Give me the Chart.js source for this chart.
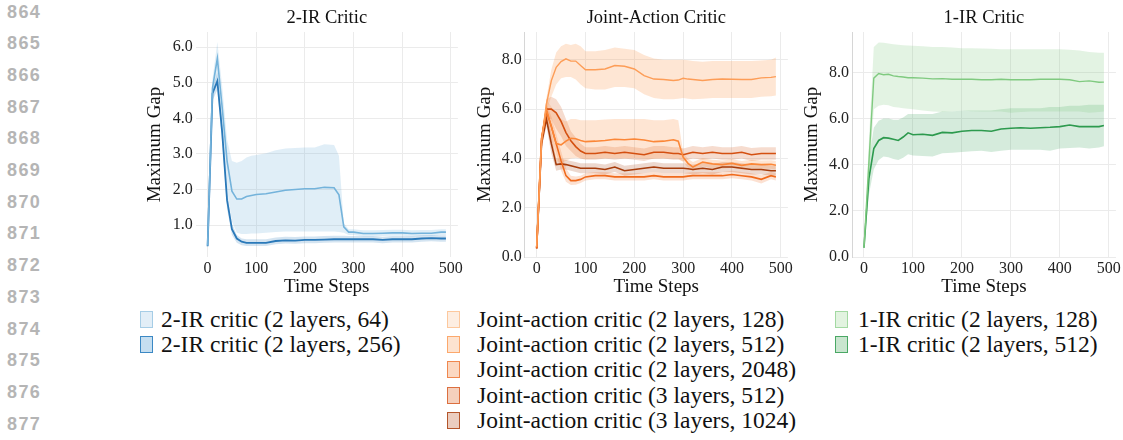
<!DOCTYPE html>
<html>
<head>
<meta charset="utf-8">
<script src="https://cdn.jsdelivr.net/npm/chart.js@4.4.1/dist/chart.umd.min.js"></script>
<style>
  body { margin: 0; background: #fff; width: 1123px; height: 440px; position: relative; overflow: hidden; font-family: "Liberation Serif", serif; }
  .ln { position: absolute; left: 7px; font: bold 18px "Liberation Sans", sans-serif; color: #b5b5b5; letter-spacing: 1.4px; line-height: 20px; }
  .pan { position: absolute; top: 0; height: 300px; }
  .leg { position: absolute; top: 307px; font-size: 23.5px; color: #111; }
  .row { height: 25.2px; position: relative; white-space: nowrap; }
  .sw { position: absolute; left: 0; top: 4px; width: 13px; height: 17px; border: 1.5px solid; box-sizing: border-box; }
  .tx { position: absolute; top: 0; line-height: 25px; }
</style>
</head>
<body>
<div id="lines"></div>
<div class="pan" style="left:140px;width:325px"><canvas id="c1"></canvas></div>
<div class="pan" style="left:470px;width:325px"><canvas id="c2"></canvas></div>
<div class="pan" style="left:800px;width:323px"><canvas id="c3"></canvas></div>
<div class="leg" id="leg1" style="left:140px"></div>
<div class="leg" id="leg2" style="left:447px"></div>
<div class="leg" id="leg3" style="left:835px"></div>
<script>
// ── page line numbers
const lineNums = [864, 865, 866, 867, 868, 869, 870, 871, 872, 873, 874, 875, 876, 877];

// ── x ticks / time steps
const xTicks = [0, 100, 200, 300, 400, 500];
const steps1 = [0,10,20,30,40,50,60,70,80,90,100,120,140,160,180,200,220,240,260,270,280,290,300,320,340,360,380,400,420,440,460,480,490];
const steps2 = [0,10,20,30,40,50,60,70,80,90,100,120,140,160,180,200,220,240,260,280,290,300,310,320,340,360,380,400,420,440,460,480,490];
const steps3 = [0,10,20,30,40,50,60,70,80,90,100,120,140,160,180,200,220,240,260,280,300,320,340,360,380,400,420,440,460,480,490];

// ── 2-IR critic
const ir2w64Mean = [0.42,4.85,5.69,4.3,2.8,1.95,1.73,1.73,1.8,1.83,1.86,1.88,1.93,1.98,2.0,2.02,2.02,2.06,2.05,1.85,0.95,0.8,0.8,0.76,0.76,0.77,0.78,0.78,0.76,0.77,0.77,0.8,0.8];
const ir2w64Hi   = [0.45,5.1,6.15,4.9,3.4,2.8,2.75,2.8,2.9,2.95,2.97,3.02,3.1,3.15,3.17,3.18,3.18,3.27,3.25,2.95,1.05,0.88,0.88,0.85,0.85,0.86,0.87,0.87,0.85,0.86,0.86,0.88,0.88];
const ir2w64Lo   = [0.4,4.6,5.2,3.6,2.0,1.1,0.78,0.75,0.75,0.76,0.76,0.78,0.8,0.82,0.82,0.82,0.82,0.82,0.82,0.8,0.78,0.72,0.72,0.68,0.68,0.69,0.7,0.7,0.68,0.69,0.69,0.72,0.72];
const ir2w256Mean = [0.4,4.7,5.05,3.6,1.7,0.88,0.62,0.53,0.5,0.5,0.5,0.5,0.55,0.57,0.56,0.58,0.58,0.59,0.6,0.6,0.6,0.6,0.6,0.6,0.6,0.58,0.6,0.6,0.6,0.62,0.63,0.62,0.62];
const ir2w256Hi   = [0.42,4.85,5.3,3.9,1.95,1.05,0.72,0.62,0.6,0.6,0.6,0.6,0.65,0.67,0.66,0.68,0.68,0.69,0.7,0.7,0.7,0.69,0.69,0.69,0.69,0.67,0.69,0.69,0.69,0.71,0.72,0.71,0.71];
const ir2w256Lo   = [0.38,4.5,4.8,3.3,1.45,0.72,0.5,0.43,0.41,0.41,0.41,0.41,0.46,0.48,0.47,0.49,0.49,0.5,0.51,0.51,0.51,0.51,0.51,0.51,0.51,0.49,0.51,0.51,0.51,0.53,0.54,0.53,0.53];

// ── joint-action critic
const ja128Mean = [0.42,4.7,6.2,7.15,7.7,7.93,8.04,7.95,7.95,7.77,7.6,7.6,7.63,7.77,7.74,7.63,7.36,7.22,7.2,7.16,7.18,7.25,7.22,7.2,7.16,7.2,7.22,7.21,7.2,7.2,7.27,7.29,7.32];
const ja128Hi   = [0.45,4.9,6.45,7.6,8.3,8.55,8.65,8.6,8.65,8.55,8.35,8.35,8.4,8.5,8.45,8.4,8.2,8.05,8.0,8.0,8.0,8.0,7.98,7.95,7.92,7.95,7.95,7.95,7.95,7.95,7.97,8.0,8.1];
const ja128Lo   = [0.4,4.5,5.9,6.5,7.0,7.25,7.3,7.3,7.2,7.0,6.85,6.8,6.8,6.9,6.9,6.85,6.6,6.45,6.4,6.4,6.42,6.45,6.42,6.4,6.42,6.45,6.45,6.45,6.45,6.45,6.5,6.52,6.55];
const ja512Mean = [0.4,4.8,6.0,5.3,4.6,4.55,4.7,4.82,4.8,4.73,4.68,4.7,4.73,4.78,4.76,4.79,4.75,4.68,4.7,4.76,4.7,4.05,3.8,3.65,3.85,3.78,3.75,3.8,3.72,3.78,3.75,3.76,3.72];
const ja512Hi   = [0.42,5.0,6.4,6.1,5.8,5.6,5.5,5.6,5.6,5.55,5.55,5.55,5.58,5.6,5.6,5.6,5.6,5.55,5.55,5.6,5.55,4.25,3.98,3.85,4.02,3.95,3.92,3.97,3.9,3.95,3.92,3.93,3.9];
const ja512Lo   = [0.38,4.6,5.6,4.6,3.9,3.8,3.9,4.0,4.02,4.0,3.98,4.0,4.0,4.02,4.0,4.02,4.0,3.98,4.0,4.0,4.0,3.85,3.62,3.48,3.68,3.6,3.58,3.62,3.55,3.6,3.58,3.58,3.55];
const ja2048Mean = [0.35,4.8,5.9,5.3,4.6,3.9,3.3,3.1,3.1,3.15,3.25,3.3,3.3,3.25,3.25,3.25,3.25,3.3,3.25,3.25,3.25,3.25,3.28,3.3,3.3,3.3,3.3,3.35,3.3,3.25,3.15,3.3,3.25];
const ja2048Hi   = [0.38,5.0,6.2,5.7,5.0,4.3,3.6,3.3,3.27,3.3,3.4,3.45,3.45,3.4,3.4,3.4,3.4,3.45,3.4,3.4,3.4,3.4,3.43,3.45,3.45,3.45,3.45,3.5,3.45,3.4,3.32,3.45,3.4];
const ja2048Lo   = [0.32,4.6,5.6,4.9,4.2,3.5,3.05,2.92,2.93,3.0,3.1,3.15,3.15,3.1,3.1,3.1,3.1,3.15,3.1,3.1,3.1,3.1,3.13,3.15,3.15,3.15,3.15,3.2,3.15,3.1,2.98,3.15,3.1];
const ja3x512Mean = [0.35,4.7,6.0,6.0,5.85,5.5,5.05,4.72,4.48,4.3,4.2,4.2,4.25,4.2,4.25,4.2,4.15,4.25,4.25,4.2,4.2,4.15,4.2,4.25,4.2,4.25,4.2,4.2,4.25,4.15,4.2,4.2,4.2];
const ja3x512Hi   = [0.38,4.9,6.4,6.5,6.4,6.1,5.6,5.1,4.85,4.6,4.45,4.45,4.5,4.45,4.5,4.45,4.4,4.5,4.5,4.45,4.45,4.4,4.45,4.5,4.45,4.5,4.45,4.45,4.5,4.42,4.45,4.45,4.45];
const ja3x512Lo   = [0.32,4.5,5.6,5.6,5.2,4.9,4.5,4.3,4.1,4.0,3.95,3.95,4.0,3.95,4.0,3.95,3.9,4.0,4.0,3.95,3.95,3.9,3.95,4.0,3.95,4.0,3.95,3.95,4.0,3.9,3.95,3.95,3.95];
const ja3x1024Mean = [0.35,4.6,5.6,4.6,3.75,3.78,3.75,3.7,3.65,3.6,3.6,3.6,3.55,3.65,3.5,3.55,3.6,3.65,3.6,3.6,3.6,3.6,3.58,3.55,3.6,3.55,3.65,3.65,3.6,3.55,3.55,3.5,3.5];
const ja3x1024Hi   = [0.38,4.8,5.9,5.0,4.0,3.98,3.95,3.9,3.85,3.8,3.8,3.8,3.75,3.85,3.7,3.75,3.8,3.85,3.8,3.8,3.8,3.8,3.78,3.75,3.8,3.75,3.85,3.85,3.8,3.75,3.75,3.7,3.7];
const ja3x1024Lo   = [0.32,4.4,5.3,4.2,3.5,3.55,3.55,3.5,3.45,3.4,3.4,3.4,3.35,3.45,3.3,3.35,3.4,3.45,3.4,3.4,3.4,3.4,3.38,3.35,3.4,3.35,3.45,3.45,3.4,3.35,3.35,3.3,3.3];

// ── 1-IR critic
const ir1w128Mean = [0.4,4.1,7.75,7.95,7.9,7.92,7.85,7.82,7.8,7.77,7.77,7.75,7.72,7.73,7.7,7.7,7.7,7.68,7.68,7.7,7.68,7.68,7.68,7.7,7.7,7.7,7.68,7.6,7.63,7.57,7.58];
const ir1w128Hi   = [0.45,5.0,9.1,9.3,9.28,9.25,9.22,9.2,9.18,9.16,9.15,9.13,9.1,9.1,9.08,9.05,9.05,9.03,9.02,9.0,9.0,9.0,9.0,9.0,9.0,9.0,8.98,8.95,8.88,8.85,8.85];
const ir1w128Lo   = [0.35,3.3,6.4,6.55,6.6,6.58,6.5,6.48,6.45,6.42,6.4,6.35,6.3,6.28,6.3,6.35,6.32,6.3,6.3,6.3,6.25,6.28,6.3,6.3,6.3,6.3,6.3,6.3,6.25,6.28,6.3];
const ir1w512Mean = [0.4,3.4,4.7,5.05,5.17,5.15,5.1,5.05,5.2,5.38,5.3,5.32,5.27,5.4,5.38,5.45,5.48,5.48,5.45,5.55,5.58,5.6,5.58,5.6,5.62,5.65,5.72,5.65,5.65,5.65,5.7];
const ir1w512Hi   = [0.45,4.2,5.6,5.9,6.0,6.0,5.95,5.95,6.05,6.2,6.2,6.2,6.2,6.3,6.3,6.35,6.35,6.35,6.35,6.4,6.45,6.45,6.45,6.45,6.5,6.5,6.55,6.55,6.6,6.6,6.6];
const ir1w512Lo   = [0.35,2.7,3.8,4.2,4.35,4.32,4.25,4.2,4.3,4.45,4.4,4.38,4.35,4.5,4.52,4.55,4.58,4.6,4.55,4.6,4.65,4.65,4.65,4.65,4.6,4.7,4.72,4.75,4.7,4.75,4.8];

const FONT = '"Liberation Serif", serif';

const lnBox = document.getElementById('lines');
lineNums.forEach((n, i) => {
  const d = document.createElement('div');
  d.className = 'ln';
  d.style.top = (1.5 + 31.7 * i) + 'px';
  d.textContent = n;
  lnBox.appendChild(d);
});

const pts = (xs, ys) => xs.map((x, i) => ({ x, y: ys[i] }));

function seriesSets(xs, s) {
  const ax = { xAxisID: 'x', yAxisID: 'y', pointRadius: 0 };
  return [
    { ...ax, data: pts(xs, s.hi), borderWidth: 0, fill: '+1', backgroundColor: s.band, order: 2 },
    { ...ax, data: pts(xs, s.lo), borderWidth: 0, fill: false, order: 2 },
    { ...ax, data: pts(xs, s.mean), borderColor: s.line, borderWidth: s.w || 1.6, fill: false, order: 1 }
  ];
}

function panel(id, o) {
  const datasets = [];
  o.series.forEach(s => datasets.push(...seriesSets(o.xs, s)));
  new Chart(document.getElementById(id), {
    type: 'line',
    data: { datasets },
    options: {
      responsive: true,
      maintainAspectRatio: false,
      animation: false,
      layout: { padding: { left: 0, right: o.padR, top: 0, bottom: 0 } },
      plugins: { legend: { display: false }, tooltip: { enabled: false } },
      scales: {
        x: {
          type: 'linear', min: -24.5, max: 514.5,
          afterBuildTicks: s => { s.ticks = xTicks.map(v => ({ value: v })); },
          afterFit: s => { s.height = 43; },
          ticks: { color: '#222', font: { family: FONT, size: 16 }, padding: 2, maxRotation: 0 },
          grid: { color: '#ebebeb', drawTicks: false },
          border: { display: false },
          title: { display: true, text: 'Time Steps', color: '#111', font: { family: FONT, size: 19 }, padding: { bottom: 1.5 } }
        },
        y: {
          min: o.ymin, max: o.ymax,
          afterBuildTicks: s => { s.ticks = o.yTicks.map(v => ({ value: v })); },
          afterFit: s => { s.width = o.yw; },
          ticks: { color: '#222', font: { family: FONT, size: 16 }, padding: 3, callback: v => v.toFixed(1) },
          grid: { color: '#ebebeb', drawTicks: false },
          border: { display: o.spine, color: '#d6d6d6' },
          title: { display: true, text: 'Maximum Gap', color: '#111', font: { family: FONT, size: 19 }, padding: { top: o.ytp } }
        },
        // panel title, centred over the plot area like an axes title
        top: {
          type: 'linear', axis: 'x', position: 'top', min: 0, max: 1,
          afterFit: s => { s.height = 32; },
          ticks: { display: false },
          grid: { display: false },
          border: { display: false },
          title: { display: true, text: o.title, color: '#111', font: { family: FONT, size: 18.5 }, padding: { top: 7 } }
        }
      }
    }
  });
}

const ir2Series = [
  { label: '2-IR critic (2 layers, 64)', mean: ir2w64Mean, hi: ir2w64Hi, lo: ir2w64Lo, line: '#74b3db', band: 'rgba(116,179,219,0.22)', box: '#e2eef7', edge: '#a6cde6' },
  { label: '2-IR critic (2 layers, 256)', mean: ir2w256Mean, hi: ir2w256Hi, lo: ir2w256Lo, line: '#2a79b9', band: 'rgba(42,121,185,0.2)', box: '#c5def0', edge: '#3b88c4', w: 1.8 }
];
const jaSeries = [
  { label: 'Joint-action critic (2 layers, 128)', mean: ja128Mean, hi: ja128Hi, lo: ja128Lo, line: '#fd9d57', band: 'rgba(253,157,87,0.26)', box: '#fdeee2', edge: '#fdc89d', w: 1.4 },
  { label: 'Joint-action critic (2 layers, 512)', mean: ja512Mean, hi: ja512Hi, lo: ja512Lo, line: '#fb8738', band: 'rgba(251,135,56,0.22)', box: '#fde3d0', edge: '#fca86c' },
  { label: 'Joint-action critic (2 layers, 2048)', mean: ja2048Mean, hi: ja2048Hi, lo: ja2048Lo, line: '#f06a1c', band: 'rgba(240,106,28,0.2)', box: '#fbd8c2', edge: '#f0874e' },
  { label: 'Joint-action critic (3 layers, 512)', mean: ja3x512Mean, hi: ja3x512Hi, lo: ja3x512Lo, line: '#d45011', band: 'rgba(212,80,17,0.2)', box: '#f5d0bd', edge: '#dc6f3f' },
  { label: 'Joint-action critic (3 layers, 1024)', mean: ja3x1024Mean, hi: ja3x1024Hi, lo: ja3x1024Lo, line: '#a63c0b', band: 'rgba(166,60,11,0.2)', box: '#ebcdbf', edge: '#b4552a' }
];
const ir1Series = [
  { label: '1-IR critic (2 layers, 128)', mean: ir1w128Mean, hi: ir1w128Hi, lo: ir1w128Lo, line: '#80ca80', band: 'rgba(128,202,128,0.22)', box: '#e2f3e0', edge: '#a3d9a2', w: 1.4 },
  { label: '1-IR critic (2 layers, 512)', mean: ir1w512Mean, hi: ir1w512Hi, lo: ir1w512Lo, line: '#2d9a4e', band: 'rgba(45,154,78,0.2)', box: '#c9e5cf', edge: '#4aa865' }
];

panel('c1', { title: '2-IR Critic', xs: steps1, series: ir2Series, ymin: 0.1, ymax: 6.43, yTicks: [1, 2, 3, 4, 5, 6], yw: 55.7, padR: 5.2, spine: false, ytp: 4 });
panel('c2', { title: 'Joint-Action Critic', xs: steps2, series: jaSeries, ymin: 0, ymax: 9.13, yTicks: [0, 2, 4, 6, 8], yw: 54.7, padR: 7, spine: true, ytp: 4 });
panel('c3', { title: '1-IR Critic', xs: steps3, series: ir1Series, ymin: 0, ymax: 9.75, yTicks: [0, 2, 4, 6, 8], yw: 52, padR: 6.5, spine: true, ytp: 1 });

function legend(id, series, textX) {
  const el = document.getElementById(id);
  series.forEach(s => {
    const r = document.createElement('div');
    r.className = 'row';
    r.innerHTML = '<span class="sw" style="background:' + s.box + ';border-color:' + s.edge + '"></span><span class="tx" style="left:' + textX + 'px">' + s.label + '</span>';
    el.appendChild(r);
  });
}
legend('leg1', ir2Series, 21);
legend('leg2', jaSeries, 30);
legend('leg3', ir1Series, 23);
</script>
</body>
</html>
